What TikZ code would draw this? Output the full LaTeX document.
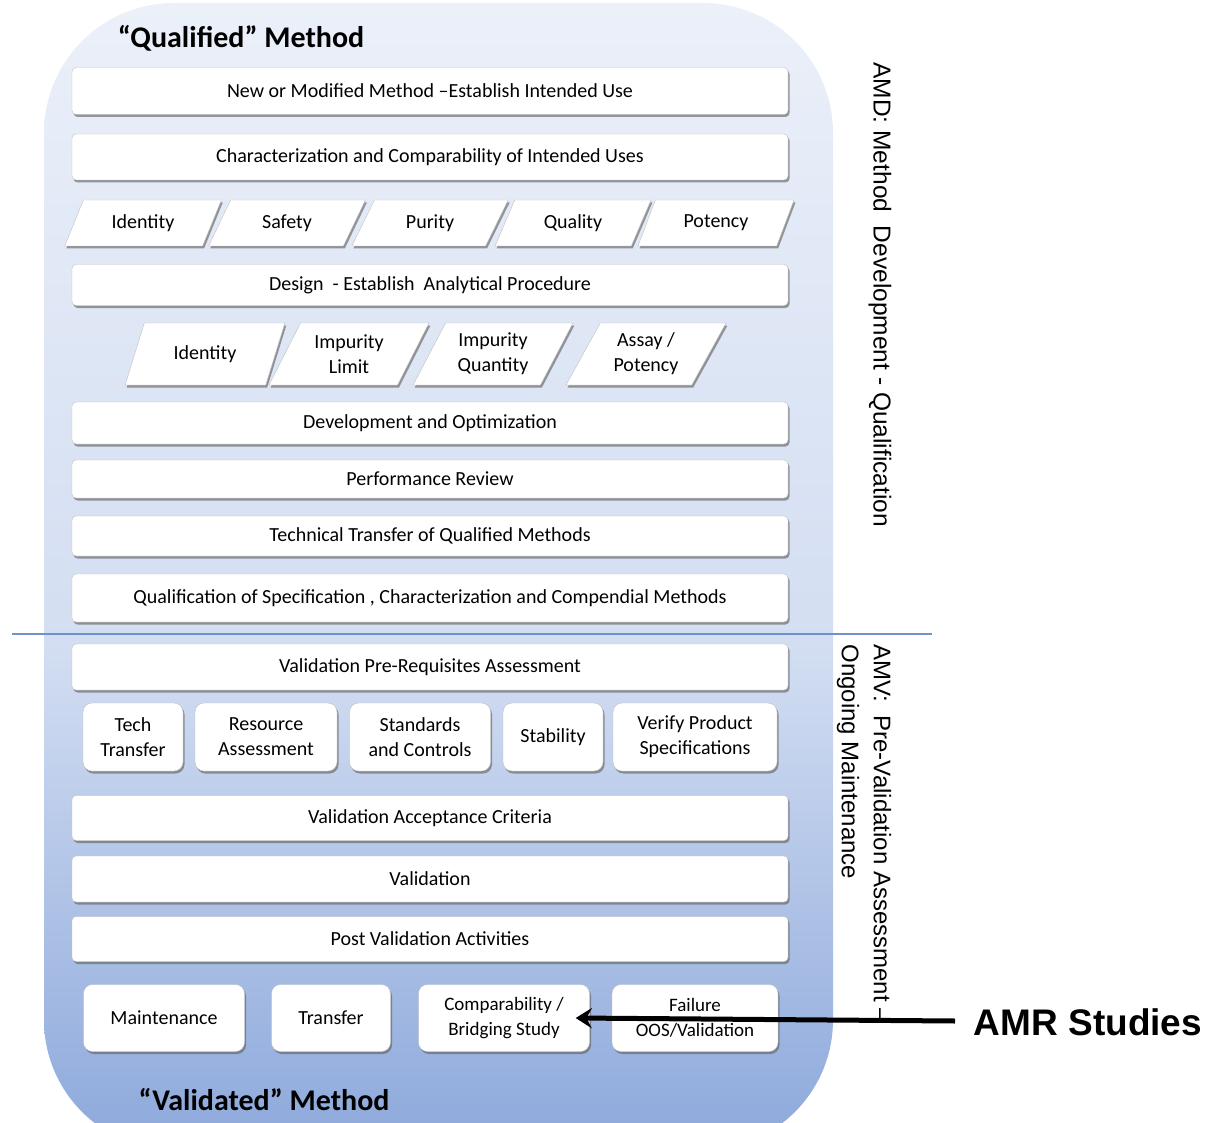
\documentclass[tikz,border=0pt]{standalone}
\usepackage{fontspec}
\setmainfont{Carlito}
\newfontfamily\arialfont{Liberation Sans}
\usetikzlibrary{shapes.geometric,shadows,arrows.meta}

\definecolor{paneltop}{HTML}{EBF0F9}
\definecolor{panelmid}{HTML}{D3DEF2}
\definecolor{panelbot}{HTML}{8CA8DB}
\definecolor{splitline}{HTML}{6F93C8}
\pgfdeclareverticalshading{panelfade}{100bp}{color(0bp)=(panelbot); color(25bp)=(panelbot); color(47bp)=(panelmid); color(75bp)=(paneltop); color(100bp)=(paneltop)}

\begin{document}
\begin{tikzpicture}[x=1pt, y=-1pt,
    boxshadow/.style={drop shadow={shadow xshift=1.5pt, shadow yshift=-2.5pt, fill=black!60, opacity=.65}},
    stage/.style={draw=gray!50, fill=white, rounded corners=4pt, minimum width=716pt, minimum height=46pt, inner sep=0pt, font=\fontsize{20}{22}\selectfont, boxshadow},
    facet/.style={trapezium, trapezium left angle=60, trapezium right angle=120, trapezium stretches=true, draw=gray!50, fill=white, minimum width=157pt, minimum height=46pt, inner sep=0pt, align=center, font=\fontsize{20}{25}\selectfont, boxshadow},
    tile/.style={draw=gray!50, fill=white, rounded corners=9pt, minimum height=68pt, inner sep=0pt, align=center, font=\fontsize{20}{25}\selectfont, boxshadow},
    title/.style={font=\fontsize{30}{32}\selectfont\bfseries},
    side/.style={rotate=-90, anchor=west, align=left, font=\arialfont\fontsize{24}{32}\selectfont}
]
\useasboundingbox (0,0) rectangle (1207,1123);

% panel
\begin{scope}
  \clip (0,0) rectangle (1207,1123);
  \shade[shading=panelfade, rounded corners=130pt] (44,3) rectangle (833,1150);
\end{scope}
\draw[splitline, line width=2pt] (12,634) -- (932,634);

\node[title] (qual) at (241,38) {“Qualified” Method};
\node[title] (vald) at (264,1100) {“Validated” Method};

% AMD part
\node[stage, minimum height=47pt] (new) at (430,91) {New or Modified Method –Establish Intended Use};
\node[stage] (char) at (430,157) {Characterization and Comparability of Intended Uses};

\node[facet] (use1) at (143,223) {Identity};
\node[facet] (use2) at (287,223) {Safety};
\node[facet] (use3) at (430,223) {Purity};
\node[facet] (use4) at (573,223) {Quality};
\node[facet] (use5) at (716,223) {Potency};

\node[stage, minimum height=41pt] (design) at (430,285) {Design \ - Establish \ Analytical Procedure};

\node[facet, minimum width=160pt, minimum height=62pt] (proc1) at (205,354) {Identity};
\node[facet, minimum width=160pt, minimum height=62pt] (proc2) at (349,354) {Impurity\\Limit};
\node[facet, minimum width=160pt, minimum height=62pt] (proc3) at (493,354) {Impurity\\Quantity};
\node[facet, minimum width=160pt, minimum height=62pt] (proc4) at (646,354) {Assay /\\Potency};

\node[stage, minimum height=42pt] (devopt) at (430,423) {Development and Optimization};
\node[stage, minimum height=38pt] (perf) at (430,479) {Performance Review};
\node[stage, minimum height=40pt] (techtr) at (430,536) {Technical Transfer of Qualified Methods};
\node[stage, minimum height=48pt] (qualspec) at (430,598) {Qualification of Specification , Characterization and Compendial Methods};

% AMV part
\node[stage] (prereq) at (430,667) {Validation Pre-Requisites Assessment};

\node[tile, minimum width=100pt] (pre1) at (133,737) {Tech\\Transfer};
\node[tile, minimum width=142pt] (pre2) at (266,737) {Resource\\Assessment};
\node[tile, minimum width=141pt] (pre3) at (420,737) {Standards\\and Controls};
\node[tile, minimum width=100pt] (pre4) at (553,737) {Stability};
\node[tile, minimum width=164pt] (pre5) at (695,737) {Verify Product\\Specifications};

\node[stage, minimum height=45pt] (accept) at (430,818) {Validation Acceptance Criteria};
\node[stage] (valid) at (430,879) {Validation};
\node[stage, minimum height=45pt] (postval) at (430,939) {Post Validation Activities};

\node[tile, minimum width=161pt, minimum height=67pt] (maint) at (164,1018) {Maintenance};
\node[tile, minimum width=119pt, minimum height=67pt] (trans) at (331,1018) {Transfer};
\node[tile, minimum width=171pt, minimum height=67pt, font=\fontsize{19}{25}\selectfont] (comp) at (504,1018) {Comparability /\\Bridging Study};
\node[tile, minimum width=166pt, minimum height=67pt, font=\fontsize{19}{25}\selectfont] (fail) at (695,1018) {Failure\\OOS/Validation};

% side labels
\node[side, font=\arialfont\fontsize{24.5}{32}\selectfont] (amd) at (880,59) {AMD: Method \ Development - Qualification};
\node[side] (amv) at (864,641) {AMV: \ Pre-Validation Assessment –\\Ongoing Maintenance};

\node[font=\arialfont\fontsize{37}{40}\selectfont\bfseries] (amr) at (1088,1022) {AMR Studies};
\coordinate (amrtail) at (955,1021);
\draw[line width=5pt, -{Stealth[length=16pt, width=20pt]}] (amrtail) -- ([xshift=-14pt]comp.east);
\end{tikzpicture}
\end{document}
